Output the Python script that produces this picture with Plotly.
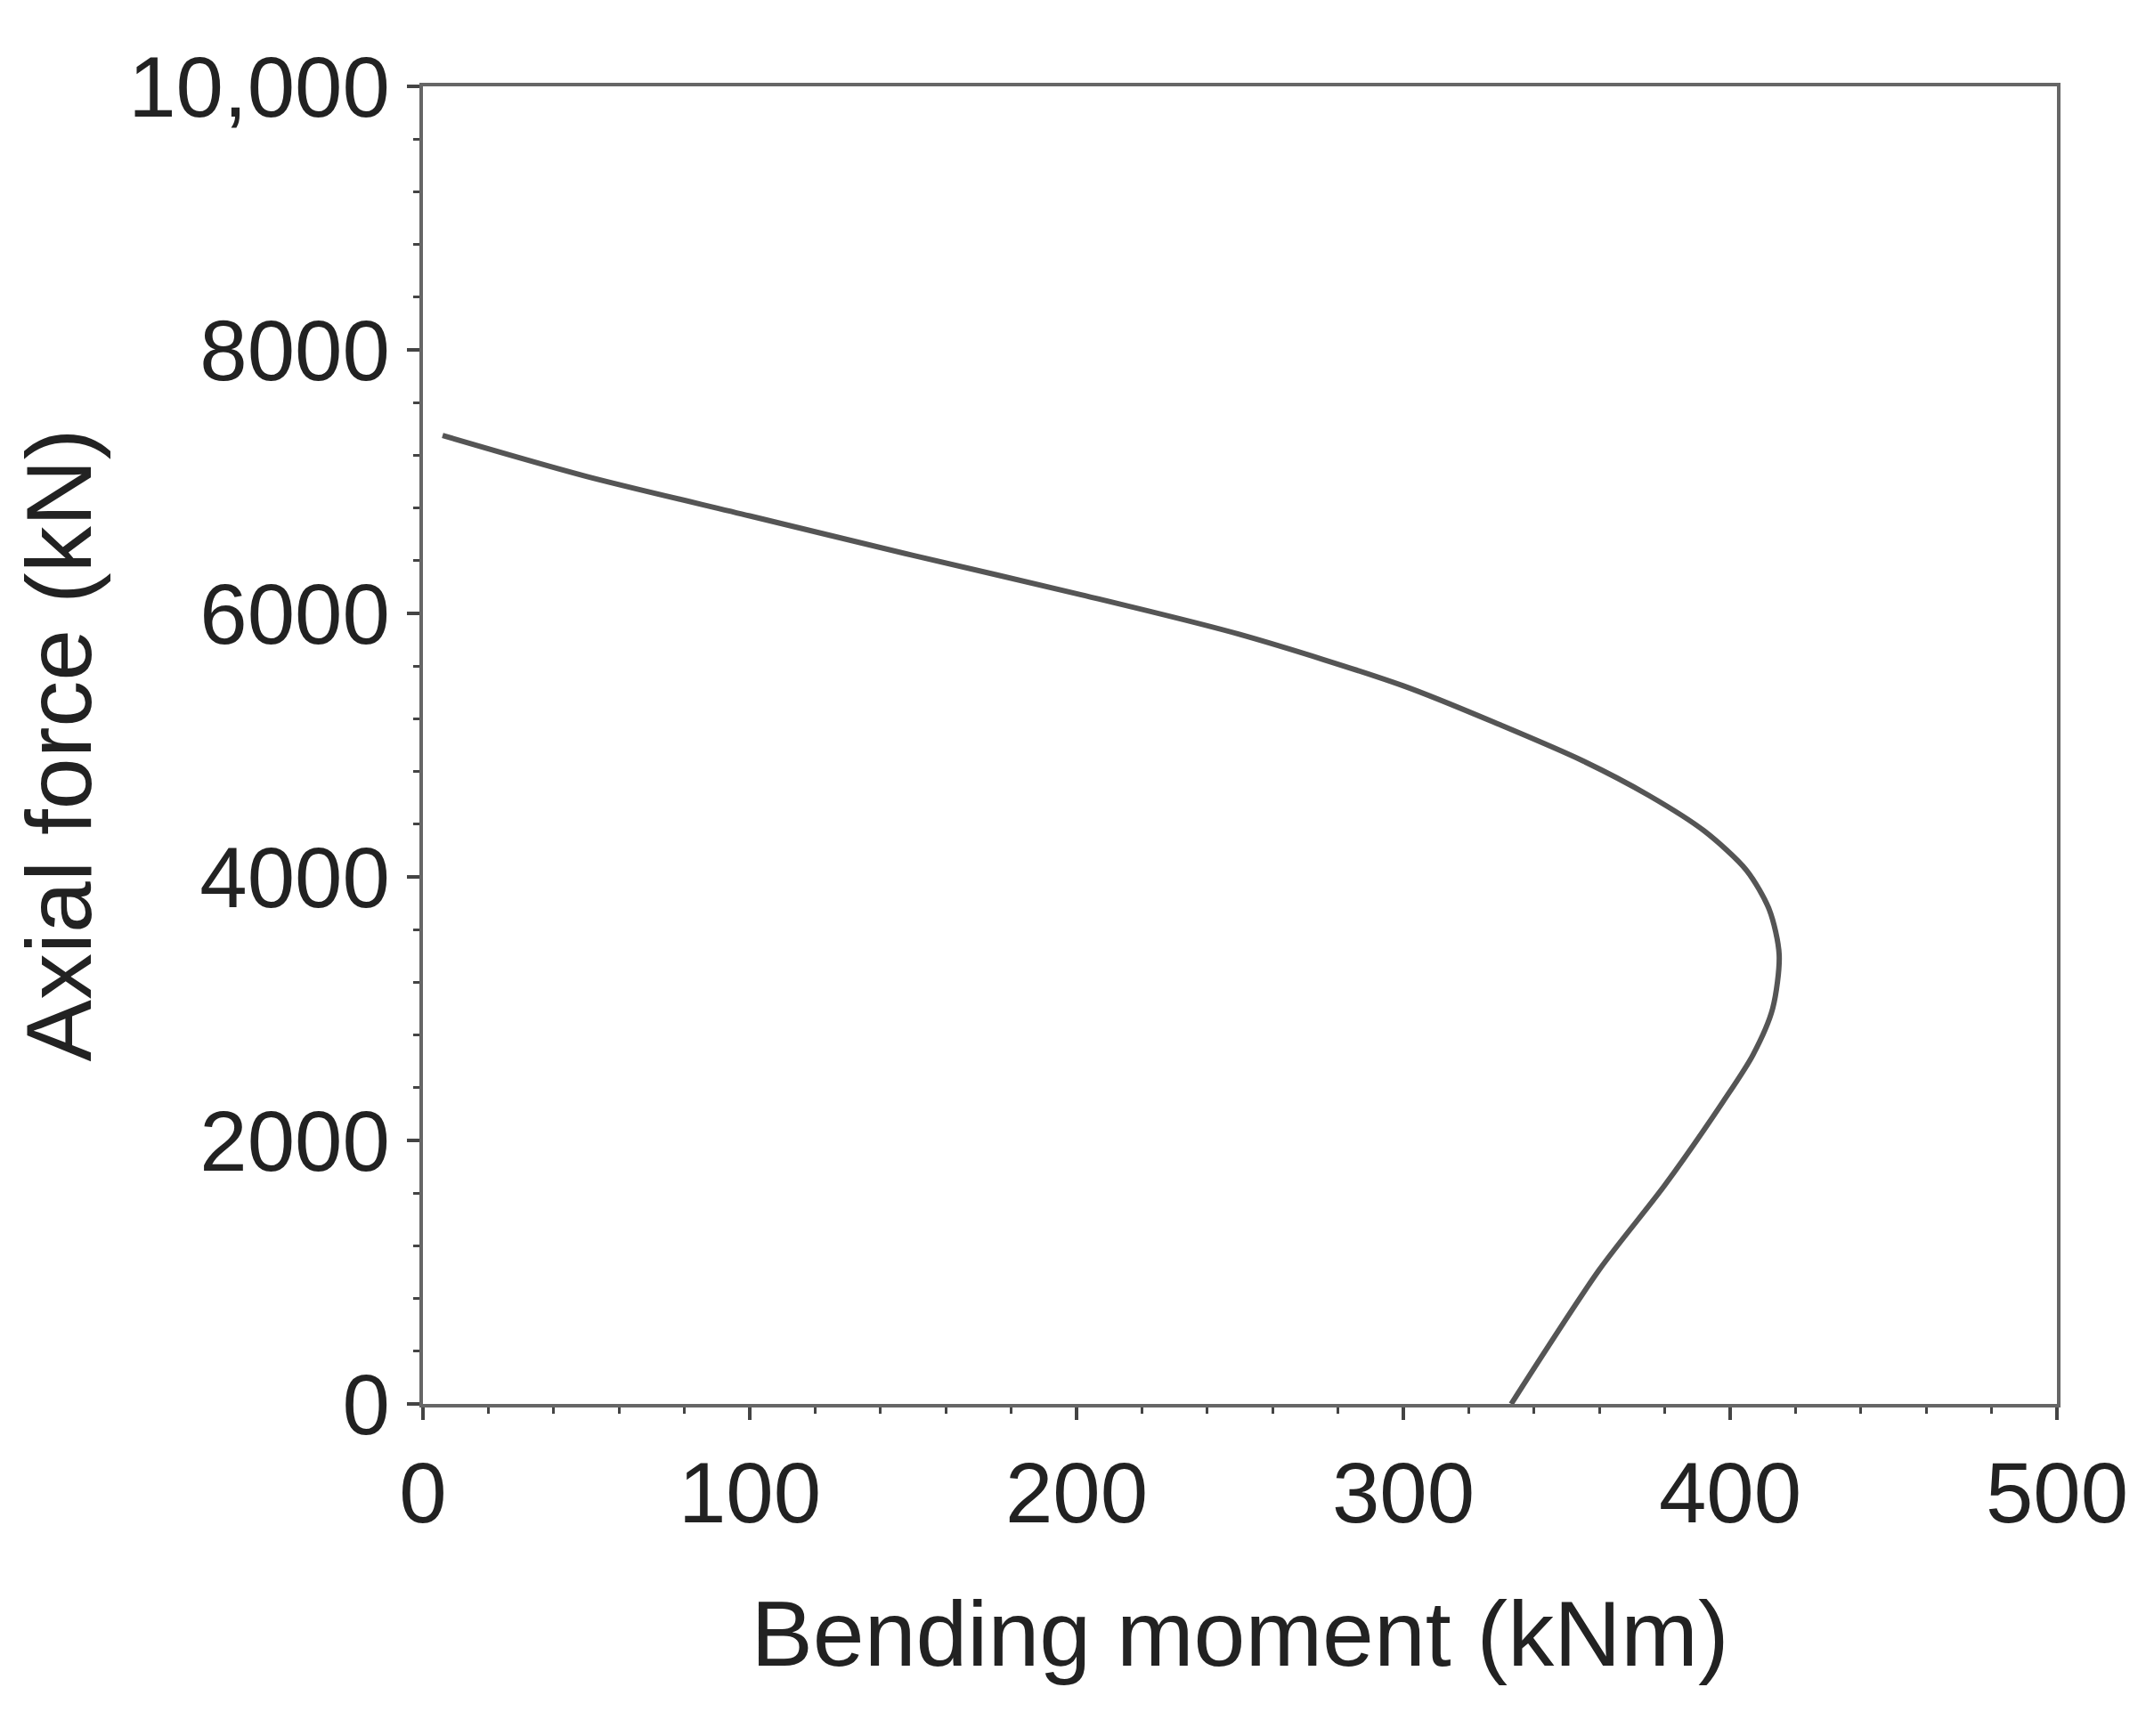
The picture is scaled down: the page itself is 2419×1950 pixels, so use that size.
import plotly.graph_objects as go

# Interaction curve
moment = [6, 50, 100, 150, 200, 250, 300, 330, 355, 375, 392, 405, 412, 415, 413, 407, 398, 380, 360, 333]
axial = [7350, 7040, 6740, 6440, 6150, 5840, 5450, 5150, 4880, 4620, 4350, 4050, 3750, 3410, 3000, 2650, 2300, 1660, 1020, 0]

x_ticks = [0, 100, 200, 300, 400, 500]
y_ticks = [0, 2000, 4000, 6000, 8000, 10000]
y_labels = ["0", "2000", "4000", "6000", "8000", "10,000"]

fig = go.Figure(go.Scatter(x=moment, y=axial, mode="lines",
                           line=dict(color="#555555", width=6, shape="spline", smoothing=0.8)))

axis_common = dict(
    showline=True, linecolor="#666666", linewidth=4, mirror=True,
    ticks="outside", ticklen=14, tickwidth=4, tickcolor="#444444",
    showgrid=False, zeroline=False,
    tickfont=dict(family="Liberation Sans, Arial", size=96, color="#222222"),
)

fig.update_xaxes(range=[0, 500], tickvals=x_ticks,
                 minor=dict(dtick=20, ticks="outside", ticklen=7, tickwidth=3, tickcolor="#444444"),
                 title=dict(text="Bending moment (kNm)", font=dict(family="Liberation Sans, Arial", size=104, color="#222222"), standoff=70),
                 **axis_common)
fig.update_yaxes(range=[0, 10000], tickvals=y_ticks, ticktext=y_labels,
                 minor=dict(dtick=400, ticks="outside", ticklen=7, tickwidth=3, tickcolor="#444444"),
                 title=dict(text="Axial force (kN)", font=dict(family="Liberation Sans, Arial", size=104, color="#222222"), standoff=25),
                 **axis_common)

fig.update_layout(
    width=2419, height=1950, showlegend=False,
    plot_bgcolor="white", paper_bgcolor="white",
    margin=dict(l=467, r=117, t=89, b=381),
)

fig.write_html("out.html")
